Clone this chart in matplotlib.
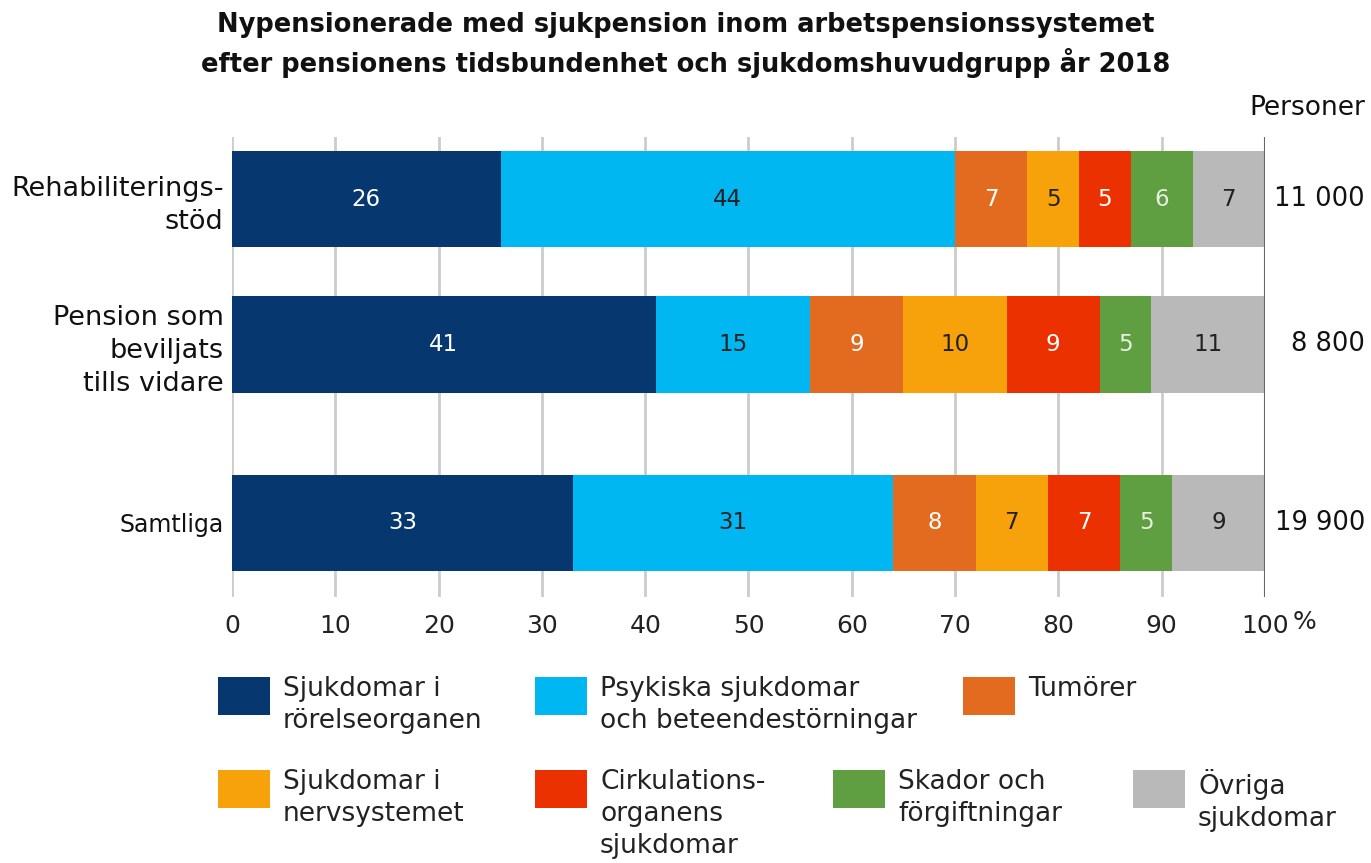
import matplotlib.pyplot as plt
from matplotlib.patches import Rectangle

plt.rcParams['font.family'] = ['DejaVu Sans']

# data
grupper = ['Rehabiliterings-\nstöd', 'Pension som\nbeviljats\ntills vidare', 'Samtliga']
personer = ['11 000', '8 800', '19 900']
sjukdomar = ['Sjukdomar i\nrörelseorganen', 'Psykiska sjukdomar\noch beteendestörningar', 'Tumörer',
             'Sjukdomar i\nnervsystemet', 'Cirkulations-\norganens\nsjukdomar', 'Skador och\nförgiftningar',
             'Övriga\nsjukdomar']
andelar = [
    [26, 41, 33],
    [44, 15, 31],
    [7, 9, 8],
    [5, 10, 7],
    [5, 9, 7],
    [6, 5, 5],
    [7, 11, 9],
]
farger = ['#06376e', '#00b7f1', '#e36b1f', '#f8a20b', '#ec3100', '#5f9e41', '#b9b9b9']
textfarg = ['white', '#222222', 'white', '#222222', 'white', '#e8f0e0', '#222222']

# layout
ypos = [0.135, 0.451, 0.839]
bar_h = 0.209

fig = plt.figure(figsize=(13.71, 8.63), dpi=100)
ax = fig.add_axes([0.16922, 0.30823, 0.75346, 0.53302])

left = [0, 0, 0]
for i, serie in enumerate(andelar):
    ax.barh(ypos, serie, left=left, height=bar_h, color=farger[i], zorder=3)
    for j, v in enumerate(serie):
        ax.text(left[j] + v / 2, ypos[j], str(v), ha='center', va='center',
                fontsize=16.5, color=textfarg[i], zorder=4)
    left = [a + b for a, b in zip(left, serie)]

ax.set_xlim(0, 100)
ax.set_ylim(1, 0)
ax.set_xticks(range(0, 101, 10))
ax.set_xticklabels([str(t) for t in range(0, 101, 10)], fontsize=18, color='#222222')
ax.tick_params(axis='x', length=0, pad=12)
ax.set_yticks(ypos)
ax.set_yticklabels(grupper, fontsize=19.5, color='#111111', linespacing=1.35)
ax.get_yticklabels()[2].set_fontsize(17)
ax.tick_params(axis='y', length=0, pad=6)
for s in ax.spines.values():
    s.set_visible(False)

for t in range(0, 100, 10):
    ax.axvline(t, color='#cccccc', linewidth=2, zorder=1)
ax.axvline(100, color='#666666', linewidth=1.5, zorder=5)

# procenttecken efter 100
fig.text(1293 / 1371, 1 - 622 / 863, '%', ha='left', va='center', fontsize=18, color='#222222')

for j, p in enumerate(personer):
    fig.text(1365 / 1371, 1 - (137 + ypos[j] * 460) / 863, p, ha='right', va='center',
             fontsize=18.5, color='#111111')
fig.text(1365 / 1371, 1 - 108 / 863, 'Personer', ha='right', va='center', fontsize=19, color='#111111')

fig.text(0.5, 1 - 45 / 863, 'Nypensionerade med sjukpension inom arbetspensionssystemet\n'
         'efter pensionens tidsbundenhet och sjukdomshuvudgrupp år 2018',
         ha='center', va='center', fontsize=18.5, fontweight='bold', color='#111111', linespacing=1.4)

# förklaring
leg_x = [218, 535, 963, 218, 535, 833, 1133]
leg_y = [677, 677, 677, 770, 770, 770, 770]
for k, namn in enumerate(sjukdomar):
    x0 = leg_x[k] / 1371
    y0 = 1 - (leg_y[k] + 38) / 863
    fig.patches.append(Rectangle((x0, y0), 52 / 1371, 38 / 863, transform=fig.transFigure,
                                 facecolor=farger[k], edgecolor='none'))
    fig.text((leg_x[k] + 65) / 1371, 1 - (leg_y[k] - 1) / 863, namn, ha='left', va='top',
             fontsize=19, color='#222222', linespacing=1.3)

fig.savefig('out.png', dpi=100)
